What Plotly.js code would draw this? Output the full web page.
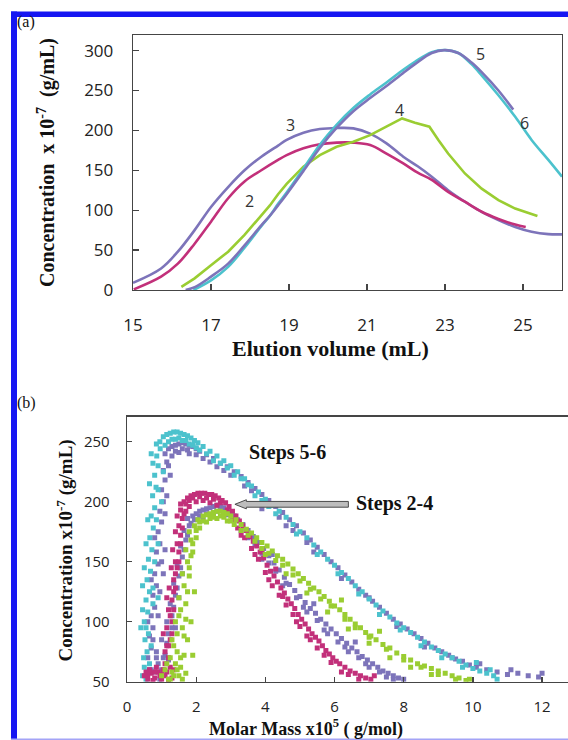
<!DOCTYPE html>
<html>
<head>
<meta charset="utf-8">
<script src="https://cdn.plot.ly/plotly-3.0.1.min.js"></script>
<style>
html,body{margin:0;padding:0;background:#fff;overflow:hidden;}
#chart{width:568px;height:740px;}
</style>
</head>
<body>
<div id="chart"></div>
<script>
// ---------- Panel (a): elution curves (x = elution volume mL, y = concentration x1e-7 g/mL)
const c2x = [15.02,15.72,16.15,16.58,17.0,17.44,17.86,18.29,18.72,18.94,19.37,19.79,20.22,20.65,21.08,21.5,21.93,22.3,22.66,23.08,23.51,23.94,24.37,24.8,25.07];
const c2y = [0.8,16.7,33,58,85.6,115,136,150,163,169,177.5,182.5,184.6,184.6,181.6,171,158.7,147,138,123,110.6,98,89,82,79];
const c3x = [15.0,15.72,16.15,16.58,17.0,17.44,17.86,18.29,18.72,18.94,19.37,19.79,20.22,20.65,21.08,21.5,21.93,22.3,22.66,23.08,23.51,23.94,24.37,24.8,25.22,25.65,26.0];
const c3y = [9,27,48,75,104,129,150,167,181,188,197,201.7,203,202.5,196,183.7,167,155,142,125,110.6,98,87.7,79,73,70,69.7];
const c4x = [16.24,16.58,17.0,17.44,17.86,18.29,18.51,18.72,18.94,19.37,19.79,20.22,20.65,21.08,21.5,21.9,22.23,22.6,22.83,23.08,23.51,23.94,24.37,24.8,25.37];
const c4y = [4,14.6,31,48,69,94,106,120,133,154.5,169,179.5,185.8,194,204.6,215,209.6,204.6,188,171,146,127,112.7,102,92.7];
const c5x = [16.35,16.6,17.0,17.44,17.86,18.29,18.51,18.72,18.94,19.37,19.79,20.22,20.65,21.08,21.5,21.93,22.23,22.66,23.0,23.34,23.68,23.94,24.37,24.75];
const c5y = [0,4,16.7,33,56,81,93,106,120,149,178,203,224,240.5,255.5,272,283,297,300.6,297,285,273,250,226];
const c6x = [16.55,17.0,17.44,17.86,18.29,18.51,18.72,18.94,19.37,19.79,20.22,20.65,21.08,21.5,21.93,22.23,22.66,23.0,23.34,23.68,23.94,24.37,24.8,25.22,25.65,26.0];
const c6y = [0,12,29,53,80,93,108,122,152,182,207,228,245,260,276,286,298,300.6,297,283,269,244,217,188,163,142];
const curveNames = ['2','3','4','5','6'];
const curveLabelX = [17.99,19.05,21.83,23.92,25.05];
const curveLabelY = [111.5,206.7,225.5,295.6,208.8];

// ---------- Panel (b): concentration vs molar mass (x = M x1e5 g/mol, y = conc x1e-7 g/mL)
const step2 = [[0.5,55],[0.6,52],[0.7,57],[0.8,53],[0.9,58],[1.0,52],[0.65,60],[0.85,62],[1.1,55],[1.2,51],[0.55,58],[0.95,55],[1.05,60],[0.75,51],[1.3,53],[0.6,56],[0.8,58],[1.0,56],
[1.1,65],[1.2,70],[1.15,80],[1.25,85],[1.15,95],[1.3,100],[1.2,110],[1.3,118],[1.22,128],[1.35,135],[1.28,145],[1.4,150],[1.32,160],[1.45,165],[1.4,175],[1.5,180],[1.45,188],[1.55,193],[1.55,198],[1.65,200],[1.1,75],[1.25,105],[1.35,125],[1.4,140],[1.5,158],[1.55,172],[1.6,186],[1.05,90],[1.15,120],
[1.75,203],[1.85,205],[1.95,206],[2.05,207],[2.15,207],[2.25,207],[2.35,206],[2.45,206],[2.55,205],[2.65,203],[2.75,201],[2.85,199],[1.8,196],[2.0,200],[2.2,201],[2.4,199],[2.6,197],[1.7,192],
[2.95,196],[3.05,192],[3.15,188],[3.25,184],[3.35,180],[3.45,176],[3.55,171],[3.65,167],[3.75,163],[3.85,158],[3.95,153],[4.05,147],[4.15,142],[4.25,138],[4.35,133],[4.45,128],[4.55,124],[4.65,119],[4.75,115],[4.85,111],[4.95,106],[5.05,102],[5.15,98],[5.25,94],[5.35,90],[5.45,87],[5.55,84],[5.65,80],[5.75,76],[5.85,73],[5.95,70],[6.05,67],[6.15,65],[6.3,62],[6.45,59],[6.6,57],[6.75,55],[6.9,53],[7.05,52],[7.15,55],[3.3,172],[3.7,156],[4.1,135],[4.5,121],[4.9,100],[5.3,85],[5.7,72],[6.2,58],[3.9,160],[4.3,144],
[1.15,58],[1.25,62],[1.35,60],[1.2,80],[1.3,90],[1.35,110],[1.4,128],[1.45,145],[1.5,150],[1.55,165],[1.6,178],[1.65,190],[1.7,198],[1.8,201],[1.9,203],[2.1,204],[2.3,203],[2.5,202],[2.7,199],[2.9,193],[3.1,185],[3.2,178],[3.4,170],[3.6,161],[3.8,152],[4.0,141],[4.2,130],[4.4,122],[4.6,114],[4.8,106],[5.0,96],[5.2,88],[5.5,78],[5.9,66],[6.4,56],[6.7,52]];
const step3 = [[0.8,58],[0.9,65],[1.0,60],[0.85,75],[1.1,72],[1.0,85],[1.2,90],[1.15,100],[1.3,105],[1.25,115],[1.4,122],[1.35,132],[1.5,138],[1.45,148],[1.6,154],[1.55,163],[1.7,168],[1.65,176],[1.8,180],[1.75,186],[1.9,188],[1.2,68],[0.95,52],[1.4,95],[1.5,120],[1.6,140],
[2.0,190],[2.1,192],[2.2,193],[2.3,194],[2.4,195],[2.5,196],[2.6,197],[2.7,196],[2.8,195],[2.9,193],[3.0,191],[2.2,187],[2.5,190],[2.8,189],
[3.1,188],[3.2,185],[3.35,181],[3.5,176],[3.65,171],[3.8,166],[3.95,161],[4.1,155],[4.25,149],[4.4,143],[4.55,137],[4.7,131],[4.85,126],[5.0,121],[5.15,116],[5.3,111],[5.45,107],[5.6,102],[5.75,98],[5.9,94],[6.05,90],[6.2,86],[6.35,82],[6.5,78],[6.65,75],[6.8,71],[6.95,68],[7.1,65],[7.25,62],[7.4,59],[7.55,57],[7.7,55],[7.85,53],[8.0,52],[3.9,152],[4.5,130],[5.1,112],[5.7,93],[6.3,79],[6.9,65],[7.5,54],[4.2,156],[5.4,115],[6.6,83],
[1.05,70],[1.15,82],[1.3,95],[1.35,112],[1.45,128],[1.55,145],[1.65,160],[1.75,172],[1.85,182],[1.95,185],[2.1,188],[2.3,190],[2.6,192],[2.9,189],[3.05,185],[3.3,176],[3.5,170],[3.7,164],[3.9,157],[4.1,149],[4.3,142],[4.6,132],[4.9,120],[5.2,108],[5.5,101],[5.8,90],[6.1,83],[6.4,75],[6.7,70],[7.0,62],[7.3,58],[7.7,52]];
const step4 = [[1.0,55],[1.1,60],[1.2,52],[1.3,58],[1.4,65],[1.5,55],[1.6,52],[1.7,57],[1.25,70],[1.35,80],[1.45,90],[1.4,100],[1.55,110],[1.5,120],[1.65,130],[1.6,140],[1.75,150],[1.7,160],[1.85,168],[1.8,175],[1.95,180],[2.05,185],[1.45,75],[1.6,95],[1.7,115],[1.9,72],[1.55,62],[1.3,85],[1.5,105],[1.8,145],[1.9,158],[2.0,170],[1.75,85],[1.85,100],[1.95,125],[1.65,72],
[2.2,188],[2.3,189],[2.4,190],[2.5,191],[2.6,192],[2.7,192],[2.8,191],[2.9,190],[3.0,188],[2.3,183],[2.6,186],[2.9,184],[2.1,178],
[3.15,185],[3.3,181],[3.45,177],[3.6,174],[3.75,170],[3.9,166],[4.05,163],[4.2,159],[4.35,155],[4.5,152],[4.65,148],[4.8,144],[4.95,140],[5.1,136],[5.25,132],[5.4,128],[5.55,125],[5.7,121],[5.85,117],[6.0,113],[6.15,110],[6.3,106],[6.45,102],[6.6,98],[6.75,95],[6.9,91],[7.05,88],[7.2,85],[7.4,81],[7.6,78],[7.8,74],[8.0,71],[8.2,68],[8.4,65],[8.6,63],[8.8,61],[9.0,59],[9.2,57],[9.4,55],[9.6,53],[9.8,51],[9.9,52],[4.0,156],[4.6,140],[5.2,124],[5.8,108],[6.4,94],[7.0,82],[7.6,70],[8.2,62],[8.8,56],[6.2,118],[7.3,92],
[1.35,55],[1.45,60],[1.55,70],[1.65,88],[1.7,102],[1.75,125],[1.8,138],[1.85,155],[1.9,165],[2.0,176],[2.1,183],[2.2,184],[2.4,186],[2.5,187],[2.7,188],[2.8,187],[3.0,184],[3.1,181],[3.3,176],[3.5,172],[3.7,167],[3.9,161],[4.1,157],[4.3,151],[4.5,147],[4.8,139],[5.0,134],[5.3,127],[5.6,119],[5.9,113],[6.3,102],[6.6,95],[7.0,87],[7.5,77],[8.0,68],[8.5,62],[9.0,56],[9.5,52],[1.25,52],[1.15,65]];
const step5 = [[0.55,55],[0.65,60],[0.6,70],[0.7,78],[0.65,88],[0.75,95],[0.7,105],[0.8,112],[0.75,122],[0.85,130],[0.8,140],[0.9,148],[0.85,158],[0.95,165],[0.9,175],[1.0,183],[0.95,192],[1.05,200],[1.0,210],[1.1,218],[1.05,226],[1.15,233],[1.1,240],[1.2,244],[0.6,100],[0.7,135],[0.8,170],[1.0,150],[1.2,230],
[1.3,246],[1.4,247],[1.5,248],[1.6,249],[1.7,248],[1.8,247],[1.9,246],[2.0,244],[2.1,242],[1.5,241],[1.8,240],
[2.3,239],[2.5,236],[2.7,232],[2.9,229],[3.1,225],[3.3,221],[3.5,216],[3.7,211],[3.9,206],[4.1,201],[4.3,196],[4.5,191],[4.7,185],[4.9,180],[5.1,174],[5.3,168],[5.5,162],[5.7,156],[5.9,150],[6.1,145],[6.3,139],[6.5,133],[6.7,127],[6.9,122],[7.1,117],[7.3,112],[7.5,107],[7.7,102],[7.9,98],[8.1,94],[8.3,90],[8.5,86],[8.7,82],[8.9,78],[9.1,75],[9.3,72],[9.5,69],[9.7,67],[9.9,64],[10.1,62],[10.4,60],[10.7,58],[11.0,56],[11.3,57],[11.6,55],[11.9,54],[12.0,57],[3.9,194],[4.6,180],[5.4,158],[6.2,136],[7.0,120],[7.8,96],[8.6,79],[9.4,70],[10.2,65],[11.1,60],
[0.7,60],[0.85,70],[0.75,85],[0.9,105],[0.95,125],[1.05,140],[1.1,160],[1.1,190],[1.15,205],[1.25,222],[1.3,238],[1.4,242],[1.6,244],[1.75,243],[2.0,239],[2.2,236],[2.4,233],[2.6,229],[2.8,226],[3.0,222],[3.4,213],[3.6,209],[4.0,198],[4.4,187],[4.8,176],[5.2,166]];
const step6 = [[0.45,55],[0.55,52],[0.5,62],[0.6,58],[0.48,70],[0.58,75],[0.52,85],[0.62,90],[0.5,100],[0.6,108],[0.55,118],[0.65,125],[0.58,135],[0.68,142],[0.62,152],[0.72,160],[0.66,170],[0.76,178],[0.7,188],[0.8,195],[0.74,205],[0.84,212],[0.8,222],[0.9,230],[0.86,238],[0.96,244],[0.95,250],[1.05,254],[0.7,80],[0.75,115],[0.8,150],[0.85,185],[0.9,210],[0.4,95],[0.45,130],[0.9,120],
[1.15,256],[1.25,257],[1.35,258],[1.45,258],[1.55,257],[1.65,256],[1.75,255],[1.85,253],[1.95,251],[2.05,249],[1.2,250],[1.4,252],[1.6,251],[1.8,248],[2.0,245],
[2.2,246],[2.4,242],[2.6,238],[2.8,234],[3.0,230],[3.2,225],[3.4,219],[3.6,213],[3.8,208],[4.0,202],[4.2,197],[4.4,192],[4.6,187],[4.8,181],[5.0,175],[5.2,170],[5.4,164],[5.6,158],[5.8,152],[6.0,147],[6.2,141],[6.4,136],[6.6,130],[6.8,125],[7.0,119],[7.2,114],[7.4,109],[7.6,104],[7.8,99],[8.0,95],[8.2,91],[8.4,87],[8.6,83],[8.8,79],[9.0,76],[9.2,73],[9.4,70],[9.6,67],[9.8,64],[10.0,61],[10.2,59],[10.4,57],[10.6,55],[10.7,52],[2.5,234],[3.1,222],[3.7,205],[4.3,190],[4.9,173],[5.5,156],[6.1,140],[6.7,123],[7.3,106],[7.9,93],[8.5,80],[9.1,70],[9.7,62],[10.1,66],[10.5,60],
[0.5,145],[0.55,165],[0.6,185],[0.65,215],[0.75,232],[0.85,248],[0.7,240],[1.1,247],[1.3,252],[1.5,253],[1.7,251],[1.9,247],[2.1,243],[2.3,240],[2.7,232],[2.9,228],[3.3,219],[3.5,214],[3.9,201],[4.1,196],[0.55,95],[0.65,65],[0.45,110],[0.75,128],[0.9,165],[1.0,200],[1.05,225]];

const xTicksA = [15,17,19,21,23,25];
const yTicksA = [0,50,100,150,200,250,300];
const xTicksB = [0,2,4,6,8,10,12];
const yTicksB = [50,100,150,200,250];

const MAG = '#C2307A', PUR = '#7D74BA', GRN = '#9ACD32', CYN = '#4CC2CD';
const W = 568, H = 740;
const px = v => v / W;
const py = v => 1 - v / H;

const traces = [];
function line(x, y, color, shape) {
  traces.push({x, y, type:'scatter', mode:'lines', xaxis:'x', yaxis:'y',
    line:{color, width:2.6, shape: shape || 'spline', smoothing:1.0}, hoverinfo:'skip', showlegend:false});
}
line(c3x, c3y, PUR);
line(c2x, c2y, MAG);
line(c4x, c4y, GRN, 'linear');
line(c6x, c6y, CYN);
line(c5x, c5y, PUR);

function pts(arr, color) {
  traces.push({x: arr.map(p => p[0]), y: arr.map(p => p[1]), type:'scatter', mode:'markers',
    xaxis:'x2', yaxis:'y2', marker:{color, size:5, symbol:'square', line:{width:0}},
    hoverinfo:'skip', showlegend:false});
}
pts(step5, PUR);
pts(step6, CYN);
pts(step3, PUR);
pts(step2, MAG);
pts(step4, GRN);

const serif = 'Liberation Serif, Times New Roman, serif';
const sans = 'Open Sans, Noto Sans, sans-serif';

const annotations = [];
curveNames.forEach((n, i) => annotations.push({xref:'x', yref:'y', x: curveLabelX[i], y: curveLabelY[i],
  text: n, showarrow:false, font:{family: sans, size:16, color:'#333'}}));
function txt(text, x, y, size, extra) {
  annotations.push(Object.assign({xref:'paper', yref:'paper', x: px(x), y: py(y), text, showarrow:false,
    xanchor:'center', yanchor:'middle', font:{family: serif, size, color:'#111'}}, extra || {}));
}
txt('(a)', 26, 22, 16);
txt('(b)', 26, 403, 16);
txt('<b>Elution volume (mL)</b>', 331, 348, 22);
txt('<b>Concentration  x 10<sup>-7</sup>  (g/mL)</b>', 47, 163, 20, {textangle:-90});
txt('<b>Molar Mass x10<sup>5</sup> ( g/mol)</b>', 306, 728, 18);
txt('<b>Concentration x10<sup>-7</sup> (g/mL)</b>', 64.5, 551, 19, {textangle:-90});
txt('<b>Steps 5-6</b>', 287, 452, 20);
txt('<b>Steps 2-4</b>', 394, 503, 20);

const shapes = [
  // blue page frame
  {type:'rect', xref:'paper', yref:'paper', x0:px(11), x1:px(17), y0:0, y1:py(11.5), fillcolor:'#1616F2', line:{width:0}},
  {type:'rect', xref:'paper', yref:'paper', x0:px(11), x1:1, y0:py(17), y1:py(11.5), fillcolor:'#1616F2', line:{width:0}},
  {type:'rect', xref:'paper', yref:'paper', x0:px(11), x1:1, y0:0, y1:py(738.5), fillcolor:'#A4A4F6', line:{width:0}},
  // hollow arrow pointing at the Steps 2-4 peaks
  {type:'path', xref:'x2', yref:'y2',
   path:'M 3.12 197.8 L 3.45 201.6 L 3.45 200.2 L 6.4 200.2 L 6.4 195.4 L 3.45 195.4 L 3.45 194 Z',
   fillcolor:'#BDBDBD', line:{color:'#4a4a4a', width:1}}
];

const axBase = {showgrid:false, zeroline:false, showline:true, linecolor:'#454545', linewidth:1.3,
  ticks:'inside', tickcolor:'#454545', tickwidth:1.3, tickmode:'array', fixedrange:true};

const layout = {
  width: W, height: H, margin:{l:0, r:0, t:0, b:0}, paper_bgcolor:'#fff', plot_bgcolor:'rgba(0,0,0,0)',
  showlegend:false,
  xaxis: Object.assign({}, axBase, {domain:[px(133), px(562)], range:[15, 26], tickvals:xTicksA,
    ticklen:6, mirror:true, anchor:'y', ticklabelstandoff:19, tickfont:{family:sans, size:17, color:'#222'}}),
  yaxis: Object.assign({}, axBase, {domain:[py(290), py(35)], range:[0, 319.5], tickvals:yTicksA,
    ticklen:6, mirror:true, anchor:'x', ticklabelstandoff:15, tickfont:{family:sans, size:17, color:'#222'}}),
  xaxis2: Object.assign({}, axBase, {domain:[px(127), 1], range:[0, 12.75], tickvals:xTicksB,
    ticklen:5, mirror:true, anchor:'y2', ticklabelstandoff:11, tickfont:{family:sans, size:15, color:'#222'}}),
  yaxis2: Object.assign({}, axBase, {domain:[py(681.7), py(416.7)], range:[50, 270.8], tickvals:yTicksB,
    ticklen:5, mirror:false, anchor:'x2', ticklabelstandoff:13, tickfont:{family:sans, size:15, color:'#222'}}),
  annotations, shapes
};

Plotly.newPlot('chart', traces, layout, {staticPlot:true, displayModeBar:false});
</script>
</body>
</html>
